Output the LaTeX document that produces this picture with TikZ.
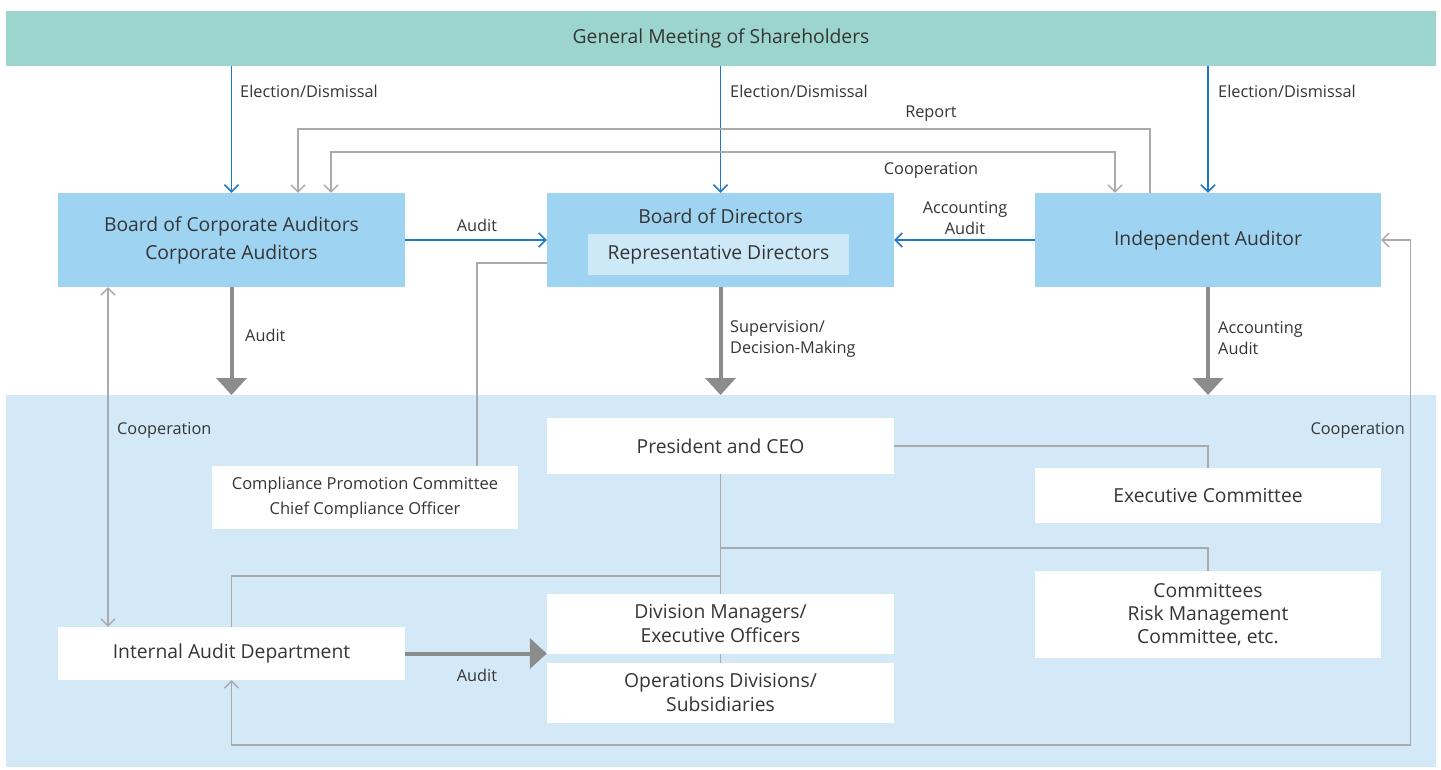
\documentclass[tikz,border=0pt]{standalone}
\usepackage{fontspec}
\setmainfont{Open Sans}
\usetikzlibrary{arrows.meta,calc}
\definecolor{teal}{HTML}{9CD5CE}
\definecolor{boxblue}{HTML}{9ED3F1}
\definecolor{repblue}{HTML}{CDE8F7}
\definecolor{bgblue}{HTML}{D4E9F7}
\definecolor{arrblue}{HTML}{1F78C6}
\definecolor{thickgray}{HTML}{8C8C8C}
\definecolor{thingray}{HTML}{AAAAAA}
\definecolor{txt}{HTML}{353535}
\tikzset{
  box/.style={rectangle,inner sep=0pt,text=txt,align=center,font=\fontsize{19.3}{28}\selectfont},
  bluebox/.style={box,fill=boxblue},
  whitebox/.style={box,fill=white},
  lbl/.style={text=txt,inner sep=0pt,font=\fontsize{16.3}{21}\selectfont},
  bluearrow/.style={draw=arrblue,line width=1.6pt,-{Straight Barb[length=7pt,width=14pt,line width=1.6pt]}},
  thinarrow/.style={draw=thingray,line width=1.4pt,-{Straight Barb[length=7pt,width=14pt,line width=1.4pt]}},
  thinboth/.style={draw=thingray,line width=1.4pt,{Straight Barb[length=7pt,width=14pt,line width=1.4pt]}-{Straight Barb[length=7pt,width=14pt,line width=1.4pt]}},
  thinline/.style={draw=thingray,line width=1.4pt},
  thickarrow/.style={draw=thickgray,line width=4pt,-{Triangle[length=17pt,width=30pt]}},
}
\begin{document}
\begin{tikzpicture}[x=1pt,y=-1pt]
\useasboundingbox (0,0) rectangle (1441,769);
\fill[white] (0,0) rectangle (1441,769);
% background regions
\fill[bgblue] (6,395) rectangle (1436,767);
\node[box,fill=teal,minimum width=1430pt,minimum height=55pt] (gms) at (721,38.5) {General Meeting of Shareholders};
% top row
\node[bluebox,minimum width=347pt,minimum height=94pt] (boca) at (231.5,240) {Board of Corporate Auditors\\Corporate Auditors};
\node[bluebox,minimum width=347pt,minimum height=94pt] (bod) at (720.5,240) {};
\node[box] (bodt) at (720.5,216) {Board of Directors};
\node[box,fill=repblue,minimum width=261pt,minimum height=41pt] (rep) at (718.5,254.5) {Representative Directors};
\node[bluebox,minimum width=346pt,minimum height=94pt] (ia) at (1208,240) {Independent Auditor};
% lower boxes
\node[whitebox,minimum width=347pt,minimum height=56pt] (pres) at (720.5,446) {President and CEO};
\node[whitebox,minimum width=346pt,minimum height=55pt] (exec) at (1208,495.5) {Executive Committee};
\node[whitebox,minimum width=306pt,minimum height=63pt,font=\fontsize{16.5}{25}\selectfont] (comp) at (365,497.5) {Compliance Promotion Committee\\Chief Compliance Officer};
\node[whitebox,minimum width=346pt,minimum height=87pt,font=\fontsize{19.3}{23}\selectfont] (comm) at (1208,614.5) {Committees\\Risk Management\\Committee, etc.};
\node[whitebox,minimum width=347pt,minimum height=60pt,font=\fontsize{19.3}{24}\selectfont] (div) at (720.5,624) {Division Managers/\\Executive Officers};
\node[whitebox,minimum width=347pt,minimum height=60pt,font=\fontsize{19.3}{24}\selectfont] (ops) at (720.5,693) {Operations Divisions/\\Subsidiaries};
\node[whitebox,minimum width=347pt,minimum height=53pt] (iad) at (231.5,653.5) {Internal Audit Department};
% election arrows
\draw[bluearrow] (boca.north |- gms.south) -- (boca.north);
\draw[bluearrow] (bod.north |- gms.south) -- (bod.north);
\draw[bluearrow] (ia.north |- gms.south) -- (ia.north);
\node[lbl,anchor=west] (l1) at (240,91) {Election/Dismissal};
\node[lbl,anchor=west] (l2) at (730,91) {Election/Dismissal};
\node[lbl,anchor=west] (l3) at (1218,91) {Election/Dismissal};
% report and cooperation
\draw[thinarrow] ([xshift=-58pt]ia.north) -- ++(0,-64) -| ([xshift=66.5pt]boca.north);
\draw[thinboth] ([xshift=99.5pt]boca.north) -- ++(0,-41) -| ([xshift=-93pt]ia.north);
\node[lbl] (lrep) at (931,114) {Report};
\node[lbl] (lcoop1) at (931,170) {Cooperation};
% audit arrows
\draw[bluearrow] (boca.east) -- (bod.west);
\draw[bluearrow] (ia.west) -- (bod.east);
\node[lbl] (laud1) at (477,225) {Audit};
\node[lbl,align=center] (lacc1) at (965,218) {Accounting\\Audit};
% thick arrows
\draw[thickarrow] (boca.south) -- (boca.south |- 0,395);
\draw[thickarrow] (bod.south) -- (bod.south |- 0,395);
\draw[thickarrow] (ia.south) -- (ia.south |- 0,395);
\node[lbl,anchor=west] (laud2) at (245,335) {Audit};
\node[lbl,anchor=west,align=left] (lsup) at (730,338.5) {Supervision/\\Decision-Making};
\node[lbl,anchor=west,align=left] (lacc2) at (1218,338.5) {Accounting\\Audit};
% compliance link
\draw[thinline] ([yshift=-23pt]bod.west) -| ([xshift=112pt]comp.north);
% left cooperation
\draw[thinboth] ([xshift=-123.5pt]boca.south) -- ([xshift=-123.5pt]iad.north);
\node[lbl,anchor=west] (lcoop2) at (117,430) {Cooperation};
% org lines
\draw[thinline] (pres.east) -| (exec.north);
\draw[thinline] (pres.south) -- (div.north);
\draw[thinline] (div.south) -- (ops.north);
\coordinate (j1) at (720.5,548);
\coordinate (j2) at (720.5,576);
\draw[thinline] (j1) -| (comm.north);
\draw[thinline] (j2) -| (iad.north);
% internal audit
\draw[thickarrow] (iad.east) -- (iad.east -| div.west);
\node[lbl] (laud3) at (477,675) {Audit};
% bottom cooperation
\draw[thinboth] (ia.east) -- ++(29,0) -- ++(0,505) -| (iad.south);
\node[lbl,anchor=east] (lcoop3) at (1405,430) {Cooperation};
\end{tikzpicture}
\end{document}
